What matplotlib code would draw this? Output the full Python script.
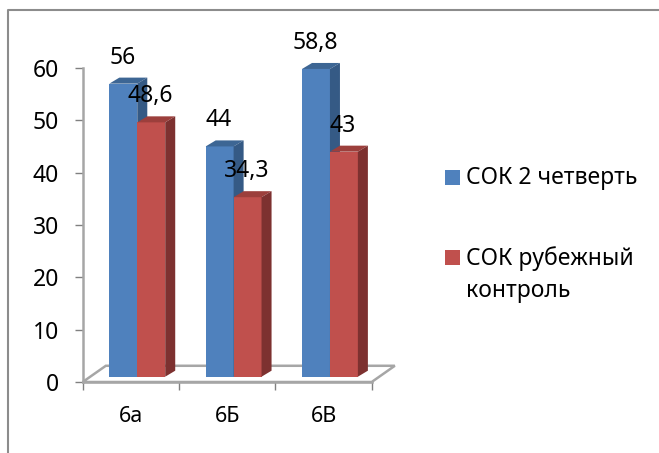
import matplotlib
matplotlib.use("Agg")
import matplotlib.pyplot as plt
from matplotlib.patches import Polygon, Rectangle
from matplotlib.transforms import Affine2D

plt.rcParams['font.family'] = ['Noto Sans', 'DejaVu Sans']

categories = ['6а', '6Б', '6В']
series_names = ['СОК 2 четверть', 'СОК рубежный\nконтроль']
sok_2q = [56, 44, 58.8]
sok_control = [48.6, 34.3, 43]
label_2q = ['56', '44', '58,8']
label_control = ['48,6', '34,3', '43']
yticks = [0, 10, 20, 30, 40, 50, 60]

W, H = 659, 453
BLUE = '#4f81bd'
BLUE_TOP = '#3d6694'
BLUE_SIDE = '#355a85'
RED = '#c0504d'
RED_TOP = '#9c3f3c'
RED_SIDE = '#7d3130'
GRAY = '#a6a6a6'
FS = 16.5

fig = plt.figure(figsize=(W / 100, H / 100), dpi=100)
ax = fig.add_axes([82.7 / W, 1 - 382 / H, 289 / W, 314 / H])
ax.set_xlim(-0.5, 2.5)
ax.set_ylim(0, 60)
ax.patch.set_visible(False)

for s in ['top', 'right']:
    ax.spines[s].set_visible(False)
for s in ['left', 'bottom']:
    ax.spines[s].set_color(GRAY)
    ax.spines[s].set_linewidth(1.8)

ax.set_xticks([i - 0.5 for i in range(4)])
ax.set_xticklabels([])
ax.tick_params(axis='x', length=6, width=1, color='#808080')
ax.set_yticks(yticks)
ax.tick_params(axis='y', length=6, width=1, color='#808080', labelsize=FS, pad=11)
for i, c in enumerate(categories):
    ax.annotate(c, (i, 0), xytext=(0, -25), textcoords='offset points',
                ha='center', va='center', fontsize=15.5, annotation_clip=False)

# 3d look: the bars sit a bit up and to the right of the axis
shift = ax.transData + Affine2D().translate(6.4, 5.3)
dx, dy = 0.104, 1.15
bw = 0.29

# floor
floor = Polygon([(-0.5, 0), (-0.5 + 0.24, 3.1), (2.5 + 0.24, 3.1), (2.5, 0)],
                closed=True, fc='white', ec=GRAY, lw=1.8, zorder=1, clip_on=False)
ax.add_patch(floor)


def box(x, v, front, top, side):
    ax.add_patch(Rectangle((x, 0), bw, v, fc=front, ec='none', transform=shift, zorder=3, clip_on=False))
    ax.add_patch(Polygon([(x, v), (x + dx, v + dy), (x + bw + dx, v + dy), (x + bw, v)],
                         fc=top, ec='none', transform=shift, zorder=3, clip_on=False))
    ax.add_patch(Polygon([(x + bw, 0), (x + bw + dx, dy), (x + bw + dx, v + dy), (x + bw, v)],
                         fc=side, ec='none', transform=shift, zorder=3, clip_on=False))


for i in range(len(categories)):
    box(i - bw, sok_2q[i], BLUE, BLUE_TOP, BLUE_SIDE)
    box(i, sok_control[i], RED, RED_TOP, RED_SIDE)

for i in range(len(categories)):
    ax.annotate(label_2q[i], (i - bw / 2, sok_2q[i]), xycoords=shift, xytext=(-0.7, 18.7),
                textcoords='offset points', ha='center', va='center', fontsize=FS, zorder=5,
                annotation_clip=False)
    ax.annotate(label_control[i], (i + bw / 2, sok_control[i]), xycoords=shift, xytext=(-0.7, 18.7),
                textcoords='offset points', ha='center', va='center', fontsize=FS, zorder=5,
                annotation_clip=False)

# legend
fig.patches.append(Rectangle((445 / W, 1 - 185 / H), 15 / W, 15 / H, fc=BLUE, ec='none', transform=fig.transFigure))
fig.patches.append(Rectangle((445 / W, 1 - 265 / H), 15 / W, 15 / H, fc=RED, ec='none', transform=fig.transFigure))
fig.text(466 / W, 1 - 178 / H, series_names[0], fontsize=FS, va='center')
fig.text(466 / W, 1 - 275 / H, series_names[1], fontsize=FS, va='center', linespacing=1.45)

# chart frame, only left and top are in the picture
fig.add_artist(plt.Line2D([8 / W, 8 / W, 1], [0, 1 - 10 / H, 1 - 10 / H], color='#8c8c8c', lw=1.5))

fig.savefig('out.png', dpi=100)
